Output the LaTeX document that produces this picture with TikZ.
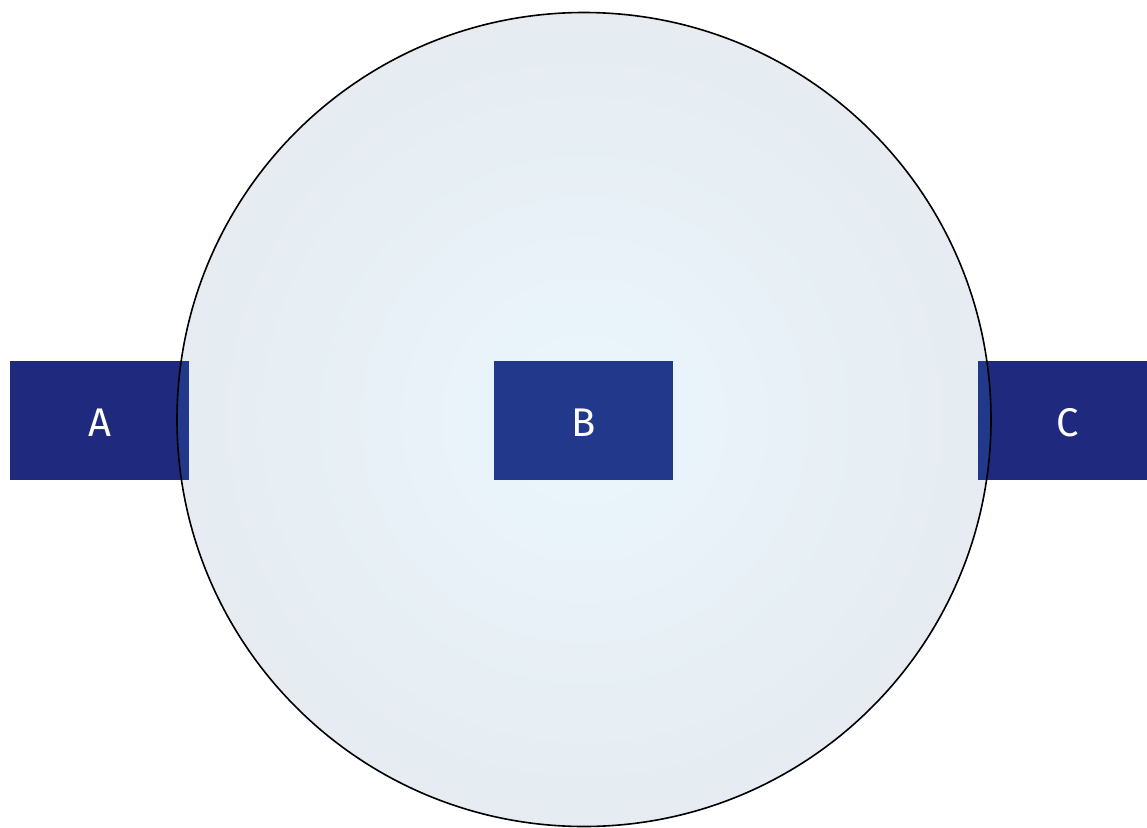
\documentclass[tikz,border=0pt]{standalone}
\usepackage{fontspec}
\setmainfont{Fira Sans}
\definecolor{boxout}{RGB}{31,41,126}
\definecolor{boxin}{RGB}{34,56,138}
\definecolor{shadein}{RGB}{234,246,253}
\definecolor{shadeout}{RGB}{230,236,241}
\tikzset{
  blk/.style={rectangle, minimum width=179pt, minimum height=119pt, inner sep=0pt, text=white, font=\fontsize{40}{42}\selectfont},
}
\begin{document}
\begin{tikzpicture}[x=1pt,y=-1pt]
\useasboundingbox (0,0) rectangle (1147,827);
\coordinate (o) at (584,419.5);
\shade[inner color=shadein, outer color=shadeout] (o) circle[radius=407];
\node[blk, fill=boxout] (A) at (99.5,420.5) {};
\node[blk, fill=boxout] (C) at (1067.5,420.5) {};
\begin{scope}
  \clip (o) circle[radius=407];
  \fill[boxin] (A.south west) rectangle (A.north east);
  \fill[boxin] (C.south west) rectangle (C.north east);
\end{scope}
\node[blk, yshift=-2pt] at (A) {A};
\node[blk, yshift=-2pt] at (C) {C};
\node[blk, fill=boxin] (B) at (583.5,420.5) {};
\node[blk, yshift=-2pt] at (B) {B};
\draw[line width=1.6pt] (o) circle[radius=407];
\end{tikzpicture}
\end{document}
